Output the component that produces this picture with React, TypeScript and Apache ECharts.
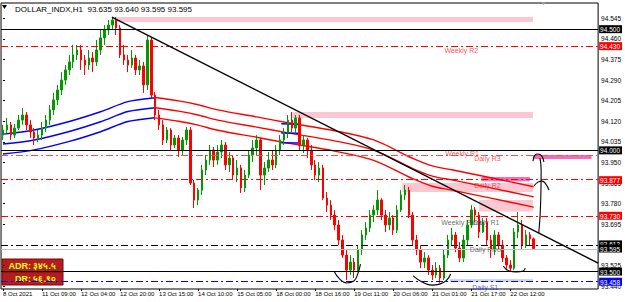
import React, { useEffect, useRef } from 'react';
import * as echarts from 'echarts';

const SYMBOL = 'DOLLAR_INDX,H1';
const TIME_LABELS = [
  '8 Oct 2021', '11 Oct 09:00', '12 Oct 04:00', '12 Oct 20:00', '13 Oct 15:00', '14 Oct 10:00',
  '15 Oct 05:00', '18 Oct 00:00', '18 Oct 16:00', '19 Oct 11:00', '20 Oct 06:00', '21 Oct 01:00',
  '21 Oct 17:00', '22 Oct 12:00',
];
const LABEL_EVERY = 10;
const SLOT_COUNT = 153;

// [open, close, low, high]
const CANDLES = [
  [94.063, 94.084, 94.043, 94.105], [94.084, 94.105, 94.072, 94.134], [94.105, 94.063, 94.043, 94.117],
  [94.063, 94.092, 94.051, 94.109], [94.092, 94.125, 94.084, 94.146], [94.125, 94.146, 94.105, 94.175],
  [94.146, 94.105, 94.084, 94.158], [94.105, 94.076, 94.051, 94.125], [94.076, 94.051, 94.022, 94.092],
  [94.051, 94.063, 94.034, 94.084], [94.063, 94.092, 94.043, 94.117], [94.092, 94.125, 94.076, 94.146],
  [94.125, 94.167, 94.105, 94.187], [94.167, 94.208, 94.146, 94.237], [94.208, 94.249, 94.187, 94.270],
  [94.249, 94.290, 94.228, 94.323], [94.290, 94.332, 94.270, 94.352], [94.332, 94.365, 94.311, 94.394],
  [94.365, 94.394, 94.340, 94.435], [94.394, 94.414, 94.373, 94.435], [94.414, 94.373, 94.332, 94.435],
  [94.373, 94.352, 94.311, 94.394], [94.352, 94.381, 94.332, 94.414], [94.381, 94.365, 94.323, 94.406],
  [94.365, 94.414, 94.348, 94.455], [94.414, 94.464, 94.394, 94.497], [94.464, 94.497, 94.435, 94.517],
  [94.497, 94.517, 94.476, 94.538], [94.517, 94.538, 94.497, 94.550], [94.538, 94.505, 94.476, 94.550],
  [94.505, 94.394, 94.381, 94.517], [94.394, 94.373, 94.352, 94.435], [94.373, 94.352, 94.323, 94.394],
  [94.352, 94.381, 94.340, 94.414], [94.381, 94.332, 94.311, 94.394], [94.332, 94.348, 94.311, 94.373],
  [94.348, 94.270, 94.237, 94.365], [94.270, 94.455, 94.249, 94.476], [94.455, 94.228, 94.216, 94.464],
  [94.228, 94.146, 94.125, 94.241], [94.146, 94.105, 94.084, 94.167], [94.105, 94.043, 94.022, 94.125],
  [94.043, 94.084, 94.030, 94.096], [94.084, 94.022, 94.001, 94.092], [94.022, 94.051, 94.010, 94.063],
  [94.051, 94.001, 93.973, 94.063], [94.001, 94.043, 93.981, 94.055], [94.043, 94.084, 94.022, 94.096],
  [94.084, 93.865, 93.857, 94.096], [93.865, 93.795, 93.762, 93.878], [93.795, 93.836, 93.774, 93.845],
  [93.836, 93.919, 93.816, 93.940], [93.919, 93.960, 93.898, 93.981], [93.960, 94.001, 93.940, 94.022],
  [94.001, 93.960, 93.931, 94.014], [93.960, 93.993, 93.940, 94.022], [93.993, 94.022, 93.968, 94.043],
  [94.022, 93.940, 93.919, 94.034], [93.940, 93.968, 93.911, 93.993], [93.968, 93.898, 93.878, 93.981],
  [93.898, 93.927, 93.869, 93.960], [93.927, 93.845, 93.824, 93.940], [93.845, 93.898, 93.828, 93.919],
  [93.898, 93.981, 93.886, 94.001], [93.981, 94.010, 93.952, 94.043], [94.010, 94.043, 93.981, 94.063],
  [94.043, 93.898, 93.836, 94.051], [93.898, 93.927, 93.857, 93.952], [93.927, 93.960, 93.911, 93.993],
  [93.960, 93.940, 93.919, 94.001], [93.940, 94.001, 93.927, 94.022], [94.001, 94.043, 93.981, 94.063],
  [94.043, 94.072, 94.022, 94.092], [94.072, 94.125, 94.051, 94.146], [94.125, 94.092, 94.076, 94.158],
  [94.092, 94.134, 94.063, 94.146], [94.134, 94.022, 94.001, 94.146], [94.022, 94.043, 93.989, 94.063],
  [94.043, 94.001, 93.968, 94.051], [94.001, 93.940, 93.919, 94.022], [93.940, 93.898, 93.878, 93.960],
  [93.898, 93.927, 93.869, 93.952], [93.927, 93.803, 93.795, 93.940], [93.803, 93.774, 93.746, 93.828],
  [93.774, 93.733, 93.713, 93.795], [93.733, 93.692, 93.671, 93.754], [93.692, 93.630, 93.609, 93.713],
  [93.630, 93.568, 93.556, 93.651], [93.568, 93.506, 93.465, 93.589], [93.506, 93.539, 93.486, 93.568],
  [93.539, 93.506, 93.473, 93.556], [93.506, 93.589, 93.498, 93.609], [93.589, 93.651, 93.568, 93.671],
  [93.651, 93.680, 93.630, 93.704], [93.680, 93.733, 93.663, 93.754], [93.733, 93.754, 93.704, 93.774],
  [93.754, 93.795, 93.733, 93.836], [93.795, 93.733, 93.713, 93.803], [93.733, 93.692, 93.663, 93.754],
  [93.692, 93.721, 93.671, 93.746], [93.721, 93.671, 93.651, 93.733], [93.671, 93.754, 93.659, 93.774],
  [93.754, 93.816, 93.746, 93.836], [93.816, 93.836, 93.795, 93.857], [93.836, 93.733, 93.721, 93.849],
  [93.733, 93.630, 93.609, 93.746], [93.630, 93.589, 93.568, 93.651], [93.589, 93.539, 93.514, 93.609],
  [93.539, 93.556, 93.514, 93.580], [93.556, 93.506, 93.486, 93.568], [93.506, 93.486, 93.465, 93.527],
  [93.486, 93.514, 93.473, 93.539], [93.514, 93.473, 93.453, 93.527], [93.473, 93.568, 93.465, 93.589],
  [93.568, 93.630, 93.556, 93.651], [93.630, 93.651, 93.609, 93.680], [93.651, 93.597, 93.580, 93.663],
  [93.597, 93.556, 93.539, 93.622], [93.556, 93.630, 93.539, 93.651], [93.630, 93.692, 93.609, 93.713],
  [93.692, 93.754, 93.680, 93.774], [93.754, 93.733, 93.704, 93.766], [93.733, 93.663, 93.638, 93.746],
  [93.663, 93.704, 93.659, 93.721], [93.704, 93.630, 93.609, 93.721], [93.630, 93.589, 93.556, 93.651],
  [93.589, 93.651, 93.568, 93.671], [93.651, 93.609, 93.589, 93.663], [93.609, 93.556, 93.539, 93.630],
  [93.556, 93.527, 93.506, 93.568], [93.527, 93.514, 93.502, 93.547], [93.514, 93.663, 93.506, 93.680],
  [93.663, 93.692, 93.638, 93.746], [93.692, 93.609, 93.589, 93.713], [93.609, 93.651, 93.597, 93.671],
  [93.651, 93.635, 93.609, 93.663], [93.635, 93.595, 93.595, 93.640],
];

// moving-average envelope, read at key bars: [bar, value]
const BLUE_UPPER = [[0, 94.067], [8, 94.084], [17, 94.119], [25, 94.159], [32, 94.201], [39, 94.217]];
const BLUE_MID = [[0, 94.026], [8, 94.043], [17, 94.078], [25, 94.118], [32, 94.160], [39, 94.176]];
const BLUE_LOWER = [[0, 93.985], [8, 94.002], [17, 94.037], [25, 94.077], [32, 94.119], [39, 94.135]];
const RED_UPPER = [[39, 94.218], [45, 94.204], [50, 94.188], [55, 94.167], [65, 94.138], [73, 94.114], [85, 94.081], [95, 94.043], [105, 93.967], [110, 93.936], [115, 93.920], [125, 93.887], [136, 93.850]];
const RED_MID = [[39, 94.176], [45, 94.162], [50, 94.146], [55, 94.125], [65, 94.096], [73, 94.072], [85, 94.039], [95, 94.001], [105, 93.925], [110, 93.894], [115, 93.878], [125, 93.845], [136, 93.808]];
const RED_LOWER = [[39, 94.134], [45, 94.120], [50, 94.104], [55, 94.083], [65, 94.054], [73, 94.030], [85, 93.997], [95, 93.959], [105, 93.883], [110, 93.852], [115, 93.836], [125, 93.803], [136, 93.766]];
const BLUE_FLIPS = [
  [[71.3, 94.110], [75.6, 94.108]],
  [[71.3, 94.072], [75.6, 94.071]],
  [[71.3, 94.031], [75.6, 94.030]],
];

// horizontal price levels
const LEVEL_VALUES = [94.5, 94.43, 94.0, 93.984, 93.877, 93.73, 93.612, 93.595, 93.5, 93.458];
const LEVEL_KIND = ['solidDark', 'redDash', 'solidDark', 'redDashLight', 'redDash', 'redDash', 'blackDash', 'grey', 'solidDark', 'blueDash'];

// rectangles: [barFrom, priceTop, barTo, priceBottom]
const ZONES = [
  [28.9, 94.550, 135.8, 94.530],
  [74.1, 94.158, 135.8, 94.134],
  [102.3, 93.865, 135.8, 93.828],
  [122.0, 93.795, 135.8, 93.748],
  [114.5, 93.469, 135.8, 93.457],
  [122.6, 93.890, 135.0, 93.873],
  [135.8, 93.981, 150.8, 93.964],
];
const ZONE_KIND = ['pink', 'pink', 'pink', 'pink', 'lightblue', 'magenta', 'magenta'];

// trend line and hand drawings: [bar, price]
const TREND = [[27.9, 94.550], [152.5, 93.535]];
const DRAWINGS = [
  [[84.8, 93.502], [86.3, 93.469], [88.1, 93.453], [89.9, 93.461], [90.9, 93.490], [91.6, 93.531]],
  [[105.1, 93.482], [107.4, 93.457], [109.9, 93.444], [111.9, 93.448], [113.7, 93.465], [114.7, 93.490]],
  [[128.2, 93.523], [129.7, 93.502], [131.5, 93.498], [133.3, 93.502], [133.8, 93.514]],
  [[137.3, 93.659], [137.8, 93.795], [137.9, 93.919], [137.6, 93.968]],
  [[135.8, 93.956], [136.8, 93.985], [137.8, 93.981], [138.6, 93.952]],
  [[136.05, 93.853], [137.1, 93.869], [138.1, 93.873], [139.1, 93.861], [139.9, 93.836]],
];

const LEVEL_TEXTS = [
  { name: 'Weekly R2', at: [113.0, 94.411], kind: 'red' },
  { name: 'Weekly R1', at: [113.2, 93.985], kind: 'red' },
  { name: 'Daily R3', at: [120.6, 93.966], kind: 'red' },
  { name: 'Daily R2', at: [120.6, 93.857], kind: 'red' },
  { name: 'Weekly Pivot', at: [112.2, 93.704], kind: 'grey' },
  { name: 'Daily R1', at: [120.3, 93.704], kind: 'grey' },
  { name: 'Daily Pivot', at: [119.5, 93.593], kind: 'grey' },
  { name: 'Daily S1', at: [120.1, 93.436], kind: 'blue' },
];

const Y_TICKS = [94.545, 94.46, 94.375, 94.29, 94.205, 94.12, 94.035, 93.95, 93.865, 93.78, 93.695, 93.525, 93.44];
const PRICE_BOXES = [94.5, 94.43, 94.0, 93.877, 93.73, 93.612, 93.595, 93.5, 93.458];
const PRICE_BOX_KIND = ['k', 'r', 'k', 'r', 'r', 'k', 'k', 'k', 'b'];

const ADR_TEXT = 'ADR: ३४५.५';
const DR_TEXT = 'DR: ५६.९०';

const Y_MIN = 93.428;
const Y_MAX = 94.608;

const FONT = '"Liberation Sans", Arial, sans-serif';
const DASHDOT = [7, 3, 2, 3];

const LEVEL_STYLE: Record<string, any> = {
  solidDark: { color: '#000000', width: 1.2, type: 'solid' },
  redDash: { color: '#ff0000', width: 1, type: DASHDOT },
  redDashLight: { color: '#f25050', width: 1, type: DASHDOT },
  blackDash: { color: '#000000', width: 1, type: DASHDOT },
  grey: { color: '#c4c4c4', width: 1, type: 'solid' },
  blueDash: { color: '#0000ff', width: 1, type: DASHDOT },
};
const ZONE_COLOR: Record<string, string> = { pink: '#fbc8d2', lightblue: '#cdd7f3', magenta: '#f46db6' };
const TEXT_COLOR: Record<string, string> = { red: '#ff2020', grey: '#444444', blue: '#1030ff' };
const BOX_BG: Record<string, string> = { k: '#000000', r: '#ff0000', b: '#0000ff' };

function buildOption() {
  const categories = Array.from({ length: SLOT_COUNT }, (_, i) => String(i));
  const showLabel = (index: number) => index % LABEL_EVERY === 0 && index / LABEL_EVERY < TIME_LABELS.length;
  const last = CANDLES[CANDLES.length - 1];
  const title = `${SYMBOL}  ${last[0].toFixed(3)} ${last[3].toFixed(3)} ${last[2].toFixed(3)} ${last[1].toFixed(3)}`;

  const lineSeries = (data: number[][], color: string, width: number, z: number, smooth: number | boolean = 0.3) => ({
    type: 'line', xAxisIndex: 1, yAxisIndex: 0, data, symbol: 'none', smooth, silent: true, z,
    lineStyle: { color, width }, clip: true,
  });

  const rich: Record<string, any> = {};
  Object.keys(BOX_BG).forEach((k) => {
    rich[k] = { backgroundColor: BOX_BG[k], color: '#ffffff', fontSize: 6.5, fontFamily: FONT, padding: [1, 2, 0, 1], lineHeight: 8 };
  });

  return {
    animation: false,
    backgroundColor: '#ffffff',
    title: { text: title, left: 10, top: 0, textStyle: { fontSize: 8, fontWeight: 'normal', color: '#000', fontFamily: FONT } },
    grid: { left: 1, top: 3, right: 22, bottom: 13, show: true, borderColor: '#000', borderWidth: 1, backgroundColor: 'transparent' },
    xAxis: [
      {
        type: 'category', data: categories, boundaryGap: true,
        axisLine: { show: false },
        axisTick: { show: true, interval: (i: number) => showLabel(i), alignWithLabel: true, length: 2, lineStyle: { color: '#000' } },
        axisLabel: {
          interval: (i: number) => showLabel(i),
          formatter: (_v: string, i: number) => TIME_LABELS[i / LABEL_EVERY] ?? '',
          align: 'left', fontSize: 6, margin: 2, color: '#000', fontFamily: FONT,
        },
        splitLine: { show: false },
      },
      { type: 'value', min: -0.5, max: SLOT_COUNT - 0.5, show: false },
    ],
    yAxis: [
      {
        type: 'value', position: 'right', min: Y_MIN, max: Y_MAX,
        axisLine: { show: false },
        axisTick: { show: true, customValues: Y_TICKS, length: 2, lineStyle: { color: '#000' } },
        axisLabel: { customValues: Y_TICKS, formatter: (v: number) => v.toFixed(3), fontSize: 6.5, margin: 3, color: '#000', fontFamily: FONT },
        splitLine: { show: false },
      },
      {
        type: 'value', position: 'right', min: Y_MIN, max: Y_MAX, z: 10,
        axisLine: { show: false }, axisTick: { show: false }, splitLine: { show: false },
        axisLabel: {
          customValues: PRICE_BOXES, margin: 1, fontFamily: FONT,
          formatter: (v: number) => {
            const k = PRICE_BOXES.findIndex((p) => Math.abs(p - v) < 1e-6);
            return `{${PRICE_BOX_KIND[k] ?? 'k'}|${v.toFixed(3)}}`;
          },
          rich,
        },
      },
    ],
    graphic: [
      { type: 'polygon', z: 0, shape: { points: [[2, 5], [7, 5], [4.5, 9]] }, style: { fill: '#000' } },
      { type: 'polygon', z: 0, shape: { points: [[541, 2], [546, 2], [543.5, 5]] }, style: { fill: '#9a9a9a' } },
      { type: 'rect', z: 0, shape: { x: 2, y: 259, width: 61, height: 13 }, style: { fill: '#b31d1d', stroke: '#7a0a0a', lineWidth: 1 } },
      { type: 'rect', z: 0, shape: { x: 2, y: 272, width: 61, height: 13 }, style: { fill: '#b31d1d', stroke: '#7a0a0a', lineWidth: 1 } },
      { type: 'text', z: 0, x: 56, y: 266, style: { text: ADR_TEXT, fill: '#ffff00', fontSize: 9, fontWeight: 'bold', fontFamily: FONT, textAlign: 'right', textVerticalAlign: 'middle' } },
      { type: 'text', z: 0, x: 56, y: 278.5, style: { text: DR_TEXT, fill: '#ffff00', fontSize: 9, fontWeight: 'bold', fontFamily: FONT, textAlign: 'right', textVerticalAlign: 'middle' } },
    ],
    series: [
      {
        type: 'line', xAxisIndex: 1, yAxisIndex: 0, data: [], silent: true, z: 1,
        markArea: {
          silent: true,
          data: ZONES.map((zn, k) => [
            { coord: [zn[0], zn[1]], itemStyle: { color: ZONE_COLOR[ZONE_KIND[k]], opacity: 1 } },
            { coord: [zn[2], zn[3]] },
          ]),
        },
      },
      lineSeries(BLUE_UPPER, '#0000ff', 1.5, 2),
      lineSeries(BLUE_MID, '#0000ff', 1.5, 2),
      lineSeries(BLUE_LOWER, '#0000ff', 1.5, 2),
      lineSeries(RED_UPPER, '#ff0000', 1.4, 2),
      lineSeries(RED_MID, '#ff0000', 1.4, 2),
      lineSeries(RED_LOWER, '#ff0000', 1.4, 2),
      ...BLUE_FLIPS.map((d) => lineSeries(d, '#0000ff', 1.5, 2, false)),
      {
        type: 'candlestick', xAxisIndex: 0, yAxisIndex: 0, data: CANDLES, barWidth: 2, silent: true, z: 3,
        itemStyle: { color: '#009a00', color0: '#ff0000', borderColor: '#009a00', borderColor0: '#ff0000', borderWidth: 1 },
      },
      {
        type: 'line', xAxisIndex: 1, yAxisIndex: 0, data: [], silent: true, z: 4,
        markLine: {
          silent: true, symbol: ['none', 'none'], label: { show: false },
          data: LEVEL_VALUES.map((v, k) => ({ yAxis: v, lineStyle: LEVEL_STYLE[LEVEL_KIND[k]] })),
        },
      },
      lineSeries(TREND, '#000000', 1.4, 5, false),
      ...DRAWINGS.map((d) => lineSeries(d, '#000000', 1.1, 5, 0.5)),
      {
        type: 'scatter', xAxisIndex: 1, yAxisIndex: 0, silent: true, z: 6, symbolSize: 1,
        itemStyle: { color: 'rgba(0,0,0,0)' },
        data: LEVEL_TEXTS.map((t) => ({
          value: t.at, name: t.name,
          label: { show: true, formatter: t.name, position: 'right', distance: 0, fontSize: 7, fontFamily: FONT, color: TEXT_COLOR[t.kind] },
        })),
      },
    ],
  };
}

export default function App() {
  const ref = useRef<HTMLDivElement>(null);
  useEffect(() => {
    if (!ref.current) return;
    const chart = echarts.init(ref.current, null, { renderer: 'svg', width: 625, height: 302 });
    chart.setOption(buildOption() as any);
    return () => chart.dispose();
  }, []);
  return <div ref={ref} style={{ position: 'fixed', left: 0, top: 0, width: 625, height: 302, background: '#fff' }} />;
}
